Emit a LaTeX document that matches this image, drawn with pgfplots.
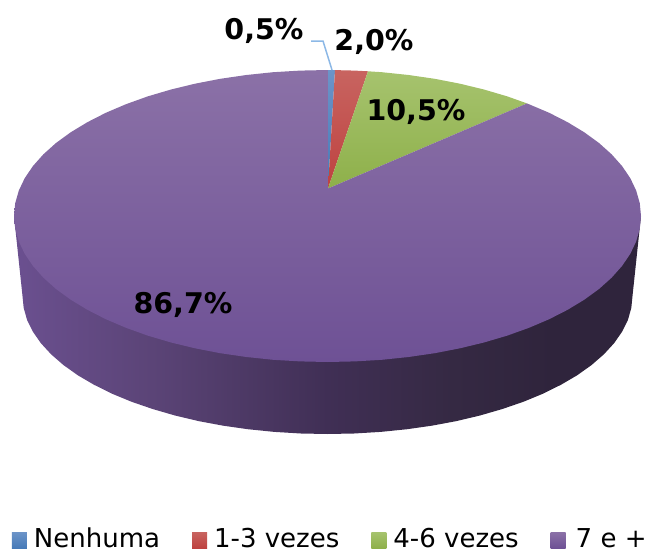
\documentclass[border=0pt]{standalone}
\usepackage{fontspec}
\setmainfont{DejaVu Sans}
\usepackage{pgfplots}
\pgfplotsset{compat=1.18}
\definecolor{leader}{HTML}{8CB8E6}
\definecolor{sideA}{HTML}{6B5090}
\definecolor{sideB}{HTML}{5B4477}
\definecolor{sideC}{HTML}{402F55}
\definecolor{sideD}{HTML}{352943}
\definecolor{sideE}{HTML}{2F243C}
% side of the disc, dark towards the right
\pgfdeclarehorizontalshading{discside}{100bp}{
  color(0bp)=(sideA); color(25bp)=(sideA); color(36bp)=(sideB); color(50bp)=(sideC);
  color(60bp)=(sideD); color(68bp)=(sideE); color(100bp)=(sideE)}
\pgfplotsset{
  blueslice/.style={draw=none, top color={rgb,255:red,108;green,148;blue,200}, bottom color={rgb,255:red,70;green,122;blue,184}},
  redslice/.style={draw=none, top color={rgb,255:red,200;green,100;blue,96}, bottom color={rgb,255:red,190;green,66;blue,64}},
  greenslice/.style={draw=none, top color={rgb,255:red,166;green,195;blue,110}, bottom color={rgb,255:red,142;green,176;blue,74}},
  purpleslice/.style={draw=none, top color={rgb,255:red,139;green,113;blue,167}, bottom color={rgb,255:red,110;green,81;blue,149}},
}
\begin{document}
\begin{tikzpicture}
\useasboundingbox (0,0) rectangle (654pt,549pt);
\begin{axis}[
  at={(0,0)}, anchor=south west,
  scale only axis, width=654pt, height=549pt,
  xmin=0, xmax=654, ymin=0, ymax=549, y dir=reverse,
  hide axis, clip=false,
  legend columns=4,
  legend image code/.code={\path[#1] (0pt,-9.7pt) rectangle (15pt,6.3pt);},
  legend cell align=left,
  legend style={draw=none, fill=none, inner sep=0pt, outer sep=0pt,
    at={(axis cs:12,549)}, anchor=south west,
    font=\fontsize{26}{28}\selectfont,
    nodes={inner sep=0pt},
    /tikz/every odd column/.append style={column sep=7pt},
    /tikz/every even column/.append style={column sep=32pt}},
]
% side wall
\addplot[forget plot, draw=none, shading=discside] coordinates {
  (14,216) (22.5,296) (23.7,308) (27.1,320) (32.9,331.7) (40.9,343.2) (51.1,354.3) (63.4,365)
  (77.7,375.2) (93.9,384.7) (111.8,393.6) (131.4,401.7) (152.6,409) (175,415.5) (198.6,421.1)
  (223.2,425.7) (248.6,429.3) (274.5,431.9) (300.9,433.5) (327.5,434) (354.1,433.5) (380.5,431.9)
  (406.4,429.3) (431.8,425.7) (456.4,421.1) (480,415.5) (502.4,409) (523.6,401.7) (543.2,393.6)
  (561.1,384.7) (577.3,375.2) (591.6,365) (603.9,354.3) (614.1,343.2) (622.1,331.7) (627.9,320)
  (631.3,308) (632.5,296) (641,216) (14,216)};
% Nenhuma 0,5
\addplot[blueslice] coordinates {(328,188.5) (327.8,70) (335,70.1) (328,188.5)};
\addlegendentry{Nenhuma}
% 1-3 vezes 2,0
\addplot[redslice] coordinates {(328,188.5) (335,70.1) (354.8,70.6) (368,71.3) (328,188.5)};
\addlegendentry{1-3 vezes\hspace{5pt}}
% 4-6 vezes 10,5
\addplot[greenslice] coordinates {(328,188.5) (368,71.3) (381.9,72.2) (408.6,75) (434.7,78.8)
  (460,83.7) (484.3,89.6) (507.3,96.4) (527,103.4) (328,188.5)};
\addlegendentry{4-6 vezes}
% 7 e + 86,7
\addplot[purpleslice] coordinates {(328,188.5) (327.8,70) (300.2,70.6) (273.1,72.2) (246.4,75)
  (220.3,78.8) (195,83.7) (170.7,89.6) (147.7,96.4) (126,104.2) (105.8,112.8) (87.4,122.2)
  (70.7,132.3) (56,143) (43.4,154.3) (32.9,166.1) (24.7,178.2) (18.8,190.6) (15.2,203.3) (14,216)
  (15.2,228.7) (18.8,241.4) (24.7,253.8) (32.9,265.9) (43.4,277.7) (56,289) (70.7,299.7)
  (87.4,309.8) (105.8,319.2) (126,327.8) (147.7,335.6) (170.7,342.4) (195,348.3) (220.3,353.2)
  (246.4,357) (273.1,359.8) (300.2,361.4) (327.5,362) (354.8,361.4) (381.9,359.8) (408.6,357)
  (434.7,353.2) (460,348.3) (484.3,342.4) (507.3,335.6) (529,327.8) (549.2,319.2) (567.6,309.8)
  (584.3,299.7) (599,289) (611.6,277.7) (622.1,265.9) (630.3,253.8) (636.2,241.4) (639.8,228.7)
  (641,216) (639.8,203.3) (636.2,190.6) (630.3,178.2) (622.1,166.1) (611.6,154.3) (599,143)
  (584.3,132.3) (567.6,122.2) (549.2,112.8) (527,103.4) (328,188.5)};
\addlegendentry{\hspace{3pt}7 e +}
% leader line of the smallest slice
\addplot[forget plot, leader, line width=1.5pt] coordinates {(311,41) (323,41) (332,70)};
\node[font=\fontsize{28.5}{30}\selectfont\bfseries] at (axis cs:264,31) {0,5\%};
\node[font=\fontsize{28.5}{30}\selectfont\bfseries] at (axis cs:374,42) {2,0\%};
\node[font=\fontsize{28.5}{30}\selectfont\bfseries] at (axis cs:416,112) {10,5\%};
\node[font=\fontsize{28.5}{30}\selectfont\bfseries] at (axis cs:183,305) {86,7\%};
\end{axis}
\end{tikzpicture}
\end{document}
